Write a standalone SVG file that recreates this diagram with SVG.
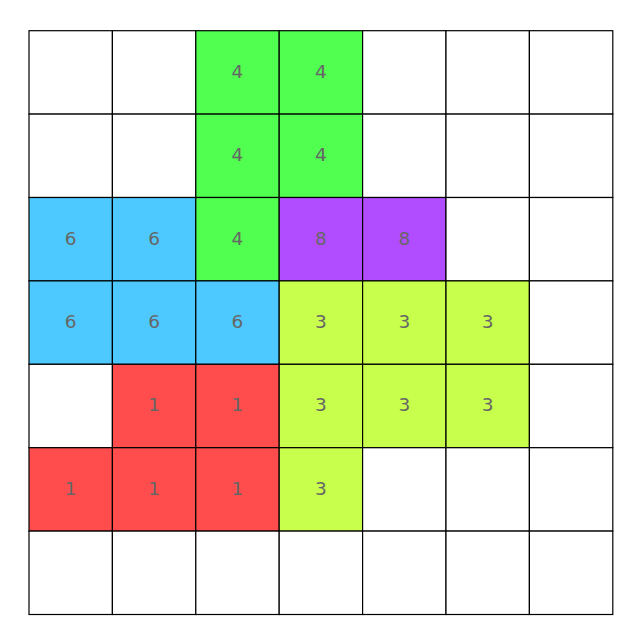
<svg xmlns="http://www.w3.org/2000/svg" width="639" height="639" viewBox="0 0 639 639">
<style>
.c{stroke:#000;stroke-width:1.2}
.e{fill:#fff}
.g{fill:#50ff50}
.b{fill:#4dc9ff}
.p{fill:#b24dff}
.y{fill:#c8ff4d}
.r{fill:#ff4d4d}
text{font-family:"DejaVu Sans",sans-serif;font-size:18.5px;fill:#666;text-anchor:middle}
</style>
<rect width="639" height="639" fill="#fff"/>
<g id="grid">
<g id="r0">
<rect class="c e" x="29" y="30.7" width="83.4" height="83.4"/>
<rect class="c e" x="112.4" y="30.7" width="83.4" height="83.4"/>
<rect class="c g" x="195.8" y="30.7" width="83.4" height="83.4"/><text x="237.5" y="77.7">4</text>
<rect class="c g" x="279.2" y="30.7" width="83.4" height="83.4"/><text x="320.9" y="77.7">4</text>
<rect class="c e" x="362.6" y="30.7" width="83.4" height="83.4"/>
<rect class="c e" x="446" y="30.7" width="83.4" height="83.4"/>
<rect class="c e" x="529.4" y="30.7" width="83.4" height="83.4"/>
</g>
<g id="r1">
<rect class="c e" x="29" y="114.1" width="83.4" height="83.4"/>
<rect class="c e" x="112.4" y="114.1" width="83.4" height="83.4"/>
<rect class="c g" x="195.8" y="114.1" width="83.4" height="83.4"/><text x="237.5" y="161.1">4</text>
<rect class="c g" x="279.2" y="114.1" width="83.4" height="83.4"/><text x="320.9" y="161.1">4</text>
<rect class="c e" x="362.6" y="114.1" width="83.4" height="83.4"/>
<rect class="c e" x="446" y="114.1" width="83.4" height="83.4"/>
<rect class="c e" x="529.4" y="114.1" width="83.4" height="83.4"/>
</g>
<g id="r2">
<rect class="c b" x="29" y="197.5" width="83.4" height="83.4"/><text x="70.7" y="244.5">6</text>
<rect class="c b" x="112.4" y="197.5" width="83.4" height="83.4"/><text x="154.1" y="244.5">6</text>
<rect class="c g" x="195.8" y="197.5" width="83.4" height="83.4"/><text x="237.5" y="244.5">4</text>
<rect class="c p" x="279.2" y="197.5" width="83.4" height="83.4"/><text x="320.9" y="244.5">8</text>
<rect class="c p" x="362.6" y="197.5" width="83.4" height="83.4"/><text x="404.3" y="244.5">8</text>
<rect class="c e" x="446" y="197.5" width="83.4" height="83.4"/>
<rect class="c e" x="529.4" y="197.5" width="83.4" height="83.4"/>
</g>
<g id="r3">
<rect class="c b" x="29" y="280.9" width="83.4" height="83.4"/><text x="70.7" y="327.9">6</text>
<rect class="c b" x="112.4" y="280.9" width="83.4" height="83.4"/><text x="154.1" y="327.9">6</text>
<rect class="c b" x="195.8" y="280.9" width="83.4" height="83.4"/><text x="237.5" y="327.9">6</text>
<rect class="c y" x="279.2" y="280.9" width="83.4" height="83.4"/><text x="320.9" y="327.9">3</text>
<rect class="c y" x="362.6" y="280.9" width="83.4" height="83.4"/><text x="404.3" y="327.9">3</text>
<rect class="c y" x="446" y="280.9" width="83.4" height="83.4"/><text x="487.7" y="327.9">3</text>
<rect class="c e" x="529.4" y="280.9" width="83.4" height="83.4"/>
</g>
<g id="r4">
<rect class="c e" x="29" y="364.3" width="83.4" height="83.4"/>
<rect class="c r" x="112.4" y="364.3" width="83.4" height="83.4"/><text x="154.1" y="411.3">1</text>
<rect class="c r" x="195.8" y="364.3" width="83.4" height="83.4"/><text x="237.5" y="411.3">1</text>
<rect class="c y" x="279.2" y="364.3" width="83.4" height="83.4"/><text x="320.9" y="411.3">3</text>
<rect class="c y" x="362.6" y="364.3" width="83.4" height="83.4"/><text x="404.3" y="411.3">3</text>
<rect class="c y" x="446" y="364.3" width="83.4" height="83.4"/><text x="487.7" y="411.3">3</text>
<rect class="c e" x="529.4" y="364.3" width="83.4" height="83.4"/>
</g>
<g id="r5">
<rect class="c r" x="29" y="447.7" width="83.4" height="83.4"/><text x="70.7" y="494.7">1</text>
<rect class="c r" x="112.4" y="447.7" width="83.4" height="83.4"/><text x="154.1" y="494.7">1</text>
<rect class="c r" x="195.8" y="447.7" width="83.4" height="83.4"/><text x="237.5" y="494.7">1</text>
<rect class="c y" x="279.2" y="447.7" width="83.4" height="83.4"/><text x="320.9" y="494.7">3</text>
<rect class="c e" x="362.6" y="447.7" width="83.4" height="83.4"/>
<rect class="c e" x="446" y="447.7" width="83.4" height="83.4"/>
<rect class="c e" x="529.4" y="447.7" width="83.4" height="83.4"/>
</g>
<g id="r6">
<rect class="c e" x="29" y="531.1" width="83.4" height="83.4"/>
<rect class="c e" x="112.4" y="531.1" width="83.4" height="83.4"/>
<rect class="c e" x="195.8" y="531.1" width="83.4" height="83.4"/>
<rect class="c e" x="279.2" y="531.1" width="83.4" height="83.4"/>
<rect class="c e" x="362.6" y="531.1" width="83.4" height="83.4"/>
<rect class="c e" x="446" y="531.1" width="83.4" height="83.4"/>
<rect class="c e" x="529.4" y="531.1" width="83.4" height="83.4"/>
</g>
</g>
<g id="connectors"/>
</svg>
